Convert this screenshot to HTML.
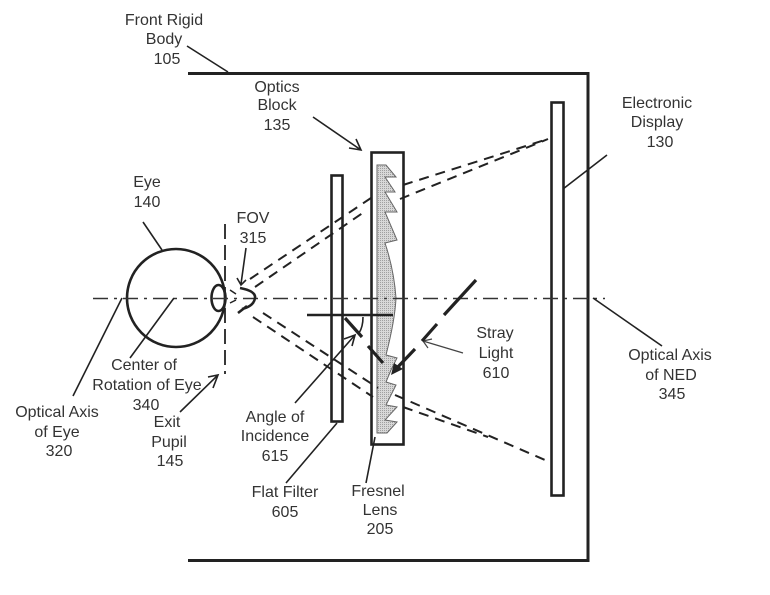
<!DOCTYPE html>
<html><head><meta charset="utf-8"><style>
html,body{margin:0;padding:0;background:#fff;width:770px;height:595px;overflow:hidden}
svg{display:block}
text{font-family:"Liberation Sans",sans-serif;font-size:16px;fill:#333;text-anchor:middle}
.l{fill:none;stroke:#222;stroke-width:1.6}
.t{fill:none;stroke:#444;stroke-width:1.2}
.b{fill:none;stroke:#222;stroke-width:2.6}
.d{fill:none;stroke:#222;stroke-width:2;stroke-dasharray:10 7}
</style></head><body>
<svg width="770" height="595" viewBox="0 0 770 595" xmlns="http://www.w3.org/2000/svg">
<defs><pattern id="g" width="2" height="2" patternUnits="userSpaceOnUse"><rect width="2" height="2" fill="#d8d8d8"/><rect width="1" height="1" fill="#a0a0a0"/></pattern></defs>
<path d="M188 73.500H588V560.500H188" fill="none" stroke="#222" stroke-width="3"/>
<path d="M377 165H386L396 177H385L395 192H385L397 212H385L397 240L385 243Q394 270 396 298Q395 320 386 355L397 358L391 370L386 382L396 385L386 405L397 407L385 420L397 422L387 433H377Z" fill="url(#g)" stroke="#666" stroke-width="1"/>
<rect x="331.500" y="175.500" width="11" height="246" class="b"/>
<rect x="371.500" y="152.500" width="32" height="292" class="b"/>
<rect x="551.500" y="102.500" width="12" height="393" class="b"/>
<circle cx="176" cy="298" r="49" class="b"/>
<ellipse cx="218.500" cy="298" rx="7" ry="13" class="b"/>
<path d="M225 224V374" fill="none" stroke="#222" stroke-width="1.800" stroke-dasharray="15 6"/>
<path d="M88 298.500H605" fill="none" stroke="#333" stroke-width="1.500" stroke-dasharray="15 6 3 6" stroke-dashoffset="25"/>
<path d="M250 279L371 198M403 185L548 139M255 287L367 210M400 199L548 139" class="d"/>
<path d="M263 313L378 388M395 395L545 460M253 317L373 397M403 407L488 437" class="d"/>
<path d="M230 290L236 294M230 303L236 300" fill="none" stroke="#222" stroke-width="1.500"/>
<path d="M240 288Q256 291 255 298Q254 306 242 309M238 313L247 306" class="b"/>
<path d="M187 46L228 72M143 222L162 250M563 189L607 155M593 298L662 346M122 298L73 396M174 298L130 358M337 423L286 483M375 437L366 483" class="l"/>
<path d="M246 248L241 284M237 278L241 285L246 280" class="l"/>
<path d="M313 117L361 150M349 148L361 150L356 139" class="l"/>
<path d="M463 353L423 341M432 339L423 341L428 348" class="t"/>
<path d="M180 412L218 375M208 377L218 375L213 388" class="l"/>
<path d="M295 403L355 335M344 339L355 335L352 346" class="l"/>
<path d="M307 315H393" class="b"/>
<path d="M363 317Q363 327 359 333" class="l"/>
<path d="M345 318L362 337M368 346L383 363" fill="none" stroke="#222" stroke-width="3.200"/>
<path d="M476 280L444 315M437 324L422 341M415 349L395 370" fill="none" stroke="#222" stroke-width="3.200"/>
<path d="M391 375L394 363L403 369Z" fill="#222"/>
<text x="164" y="25">Front Rigid</text><text x="164" y="44">Body</text><text x="167" y="64">105</text>
<text x="277" y="92">Optics</text><text x="277" y="110">Block</text><text x="277" y="130">135</text>
<text x="657" y="108">Electronic</text><text x="657" y="127">Display</text><text x="660" y="147">130</text>
<text x="147" y="187">Eye</text><text x="147" y="207">140</text>
<text x="253" y="223">FOV</text><text x="253" y="243">315</text>
<text x="144" y="370">Center of</text><text x="147" y="390">Rotation of Eye</text><text x="146" y="410">340</text>
<text x="167" y="427">Exit</text><text x="169" y="447">Pupil</text><text x="170" y="466">145</text>
<text x="57" y="417">Optical Axis</text><text x="57" y="437">of Eye</text><text x="59" y="456">320</text>
<text x="275" y="422">Angle of</text><text x="275" y="441">Incidence</text><text x="275" y="461">615</text>
<text x="285" y="497">Flat Filter</text><text x="285" y="517">605</text>
<text x="378" y="496">Fresnel</text><text x="380" y="515">Lens</text><text x="380" y="534">205</text>
<text x="495" y="338">Stray</text><text x="496" y="358">Light</text><text x="496" y="378">610</text>
<text x="670" y="360">Optical Axis</text><text x="671" y="380">of NED</text><text x="672" y="399">345</text>
</svg>
</body></html>
